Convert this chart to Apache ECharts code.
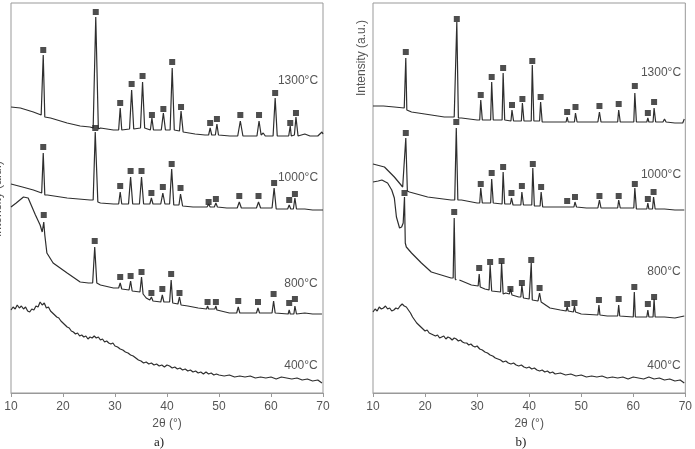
<!DOCTYPE html>
<html>
<head>
<meta charset="utf-8">
<script src="https://cdn.jsdelivr.net/npm/echarts@6/dist/echarts.min.js"></script>
<style>
  html, body { margin: 0; padding: 0; background: #fff; }
  #chart { width: 695px; height: 449px; }
</style>
</head>
<body>
<div id="chart"></div>
<script>
// x axis ticks (2θ, degrees)
var xTicks = [10, 20, 30, 40, 50, 60, 70];
var tempLabels = ['1300°C', '1000°C', '800°C', '400°C'];

// ---- panel a) traces: [2θ, intensity (a.u., offset included)] ----
var a1300 = [[10, 286], [11.8, 285], [14.3, 281], [15.8, 278], [15.95, 277], [16.2, 338], [16.5, 276],
    [17.6, 275], [20.8, 270], [23.3, 267], [25.2, 266], [25.8, 265], [26.3, 376], [26.8, 264],
    [27.2, 265], [29.7, 263], [30.7, 263], [31.0, 285], [31.3, 263], [32.8, 264], [33.2, 303], [33.6, 264],
    [34.9, 265], [35.3, 311], [35.7, 265], [36.8, 263], [37.1, 275], [37.4, 263], [38.9, 263], [39.3, 280],
    [39.7, 263], [40.6, 263], [41.0, 325], [41.4, 263], [42.4, 262], [42.7, 282], [43.1, 261], [45.4, 259],
    [47.3, 258], [48.0, 258], [48.3, 265], [48.6, 258], [49.3, 258], [49.6, 269], [49.9, 258], [52.1, 257],
    [53.6, 257], [54.1, 272], [54.6, 257], [56.0, 257], [57.3, 257], [57.7, 272], [58.1, 258], [58.5, 260],
    [58.9, 257], [60.4, 257], [60.8, 295], [61.2, 257], [63.4, 257], [63.7, 267], [63.9, 257], [64.5, 258],
    [64.8, 276], [65.2, 257], [66.5, 259], [67.5, 257], [69.0, 257], [69.8, 261], [70, 259]];
var a1000 = [[10, 209], [12.2, 206], [14.3, 203], [15.9, 200], [16.2, 240], [16.5, 198], [17.0, 198],
    [20.8, 195], [25.2, 193], [25.8, 193], [26.2, 261], [26.7, 191], [27.2, 190], [29.7, 189],
    [30.7, 189], [31.0, 201], [31.3, 189], [32.6, 189], [33.0, 216], [33.4, 189], [34.7, 189], [35.1, 216],
    [35.5, 189], [36.7, 189], [37.0, 195], [37.3, 189], [38.8, 189], [39.2, 200], [39.6, 189], [40.5, 189],
    [40.9, 224], [41.3, 188], [42.3, 188], [42.6, 199], [43.0, 187], [45.0, 186], [47.7, 186], [48.0, 189],
    [48.3, 186], [49.1, 186], [49.4, 190], [49.7, 186], [51.5, 185], [53.5, 185], [53.9, 191], [54.3, 185],
    [55.7, 185], [57.2, 185], [57.6, 191], [58.0, 185], [60.2, 185], [60.6, 205], [61.0, 184], [63.2, 184],
    [63.5, 188], [63.8, 184], [64.3, 184], [64.6, 195], [64.9, 184], [66.5, 184], [68, 183], [70, 183]];
var a800 = [[10, 186], [11.0, 190], [12.4, 196], [13.3, 195], [14.7, 178], [15.6, 168], [16.0, 161],
    [16.3, 171], [16.5, 158], [16.9, 140], [18.1, 130], [20.8, 120], [23.3, 111], [24.9, 110],
    [25.7, 110], [26.1, 146], [26.5, 110], [27.2, 108], [29.7, 105], [30.7, 105], [31.0, 110], [31.3, 104],
    [32.7, 103], [33.0, 112], [33.3, 102], [34.8, 101], [35.1, 116], [35.4, 99], [36.0, 95], [36.7, 93],
    [37.0, 96], [37.3, 92], [38.8, 91], [39.1, 98], [39.4, 91], [40.5, 91], [40.8, 113], [41.1, 90],
    [42.1, 89], [42.4, 96], [42.7, 88], [44.0, 87], [46.0, 85], [47.6, 84], [47.8, 87], [48.0, 84],
    [49.2, 84], [49.4, 87], [49.6, 83], [52.0, 80], [53.4, 80], [53.7, 86], [54.0, 80], [57.2, 80],
    [57.5, 85], [57.8, 80], [60.2, 80], [60.5, 92], [60.8, 80], [63.3, 79], [63.5, 83], [63.7, 79],
    [64.4, 79], [64.6, 87], [64.9, 79], [66.5, 80], [68.0, 79], [69.8, 79]];
var a400 = [[10.0, 83], [10.4, 86], [10.8, 84], [11.2, 88], [11.6, 85], [12.0, 87], [12.4, 84], [12.8, 86],
    [13.2, 82], [13.6, 81], [14.0, 84], [14.4, 83], [14.8, 87], [15.2, 86], [15.6, 91], [16.0, 88],
    [16.4, 90], [16.8, 85], [17.2, 86], [17.6, 82], [18.0, 80], [18.4, 78], [18.8, 76], [19.2, 75],
    [19.6, 72], [20.0, 70], [20.4, 68], [20.8, 66], [21.2, 65], [21.6, 62], [22.0, 61], [22.4, 59],
    [22.8, 60], [23.2, 57], [23.6, 58], [24.0, 56], [24.4, 57], [24.8, 54], [25.2, 56], [25.6, 55],
    [26.0, 57], [26.4, 55], [26.8, 56], [27.2, 53], [27.6, 54], [28.0, 51], [28.4, 52], [28.8, 50],
    [29.2, 49], [29.6, 50], [30.0, 47], [30.5, 46], [31.0, 44], [31.5, 43], [32.0, 41], [32.5, 40],
    [33.0, 38], [33.5, 37], [34.0, 35], [34.5, 33], [35.0, 32], [35.5, 30], [36.0, 31], [36.5, 29],
    [37.0, 30], [37.5, 28], [38.0, 29], [38.5, 27], [39.0, 28], [39.5, 26], [40.0, 28], [40.5, 27],
    [41.0, 25], [41.5, 26], [42.0, 24], [42.5, 25], [43.0, 23], [43.5, 24], [44.0, 22], [44.5, 23],
    [45.0, 21], [45.5, 22], [46.0, 20], [46.5, 21], [47.0, 19], [47.5, 21], [48.0, 19], [48.5, 20],
    [49.0, 18], [49.5, 19], [50.0, 18], [51, 17], [52, 18], [53, 16], [54, 17], [55, 16], [56, 17],
    [57, 15], [58, 16], [59, 15], [60, 16], [61, 14], [62, 16], [63, 15], [64, 14], [65, 15], [66, 13],
    [67, 14], [68, 12], [69, 13], [69.8, 10]];

// square markers above the reflections, panel a)
var aMarks1300 = [[16.2, 343], [26.3, 381], [31.0, 290], [33.2, 309], [35.3, 317], [37.1, 278], [39.3, 284],
    [41.0, 331], [42.7, 286], [48.3, 270], [49.6, 274], [54.1, 278], [57.7, 278], [60.8, 300], [63.7, 270], [64.8, 280]];
var aMarks1000 = [[16.2, 246], [26.2, 265], [31.0, 207], [33.0, 222], [35.1, 222], [37.0, 200], [39.2, 206],
    [40.9, 229], [42.6, 205], [48.0, 191], [49.4, 194], [53.9, 197], [57.6, 197], [60.6, 210], [63.5, 193], [64.6, 199]];
var aMarks800 = [[16.3, 178], [26.1, 152], [31.0, 116], [33.0, 117], [35.1, 121], [37.0, 100], [39.1, 104],
    [40.8, 119], [42.4, 100], [47.8, 91], [49.4, 91], [53.7, 92], [57.5, 91], [60.5, 99], [63.5, 90], [64.6, 94]];

// ---- panel b) traces ----
var b1300 = [[10, 287], [12.0, 287], [14.1, 286], [16.0, 285], [16.1, 285], [16.3, 335], [16.5, 283],
    [17.4, 281], [21.2, 278], [23.7, 276], [25.6, 276], [25.9, 276], [26.1, 371], [26.4, 275], [27.0, 275],
    [30.0, 273], [30.5, 273], [30.7, 293], [31.0, 273], [32.6, 273], [32.8, 311], [33.1, 273], [34.8, 273],
    [35.0, 320], [35.3, 273], [36.5, 272], [36.7, 283], [37.0, 272], [38.5, 272], [38.7, 290], [39.0, 272],
    [40.4, 272], [40.6, 328], [40.9, 272], [42.0, 272], [42.2, 291], [42.5, 271], [44.0, 271], [46.0, 271],
    [47.1, 271], [47.3, 276], [47.5, 271], [48.7, 271], [48.9, 280], [49.2, 271], [51.0, 271], [53.2, 271],
    [53.5, 281], [53.8, 271], [55.5, 271], [57.0, 271], [57.2, 283], [57.5, 271], [60.1, 271], [60.3, 300],
    [60.6, 271], [62.6, 271], [62.8, 275], [63.0, 271], [63.8, 271], [64.0, 285], [64.3, 271], [65.7, 271],
    [66.0, 274], [66.3, 271], [68.0, 270], [69.5, 270], [69.8, 274]];
var b1000 = [[10, 229], [12.2, 226], [14.1, 216], [15.7, 206], [16.0, 204], [16.3, 255], [16.6, 202],
    [17.0, 201], [20.5, 196], [25.0, 193], [25.7, 193], [26.0, 265], [26.3, 193], [27.0, 193], [30.0, 190],
    [30.5, 190], [30.7, 205], [31.0, 190], [32.6, 190], [32.8, 214], [33.1, 190], [34.8, 189], [35.0, 221],
    [35.3, 189], [36.4, 189], [36.6, 195], [36.9, 188], [38.4, 188], [38.6, 201], [38.9, 188], [40.5, 188],
    [40.7, 225], [41.0, 187], [42.1, 187], [42.3, 201], [42.6, 186], [44.5, 186], [46.0, 186], [47.1, 186],
    [47.3, 188], [47.5, 186], [48.6, 186], [48.8, 191], [49.1, 186], [51.0, 185], [53.2, 185], [53.5, 193],
    [53.8, 185], [55.5, 185], [57.0, 185], [57.2, 193], [57.5, 185], [60.1, 185], [60.3, 205], [60.6, 184],
    [62.6, 184], [62.8, 190], [63.0, 184], [63.7, 184], [63.9, 196], [64.2, 184], [66, 184], [68, 183], [69.8, 183]];
var b800 = [[10, 211], [11.0, 212], [11.7, 213], [12.8, 210], [13.6, 203], [14.1, 195], [14.5, 176],
    [15.1, 165], [15.5, 166], [15.8, 170], [16.05, 196], [16.2, 150], [16.4, 146], [17.4, 140], [19.3, 130],
    [21.2, 121], [23.1, 118], [25.0, 115], [25.4, 115], [25.6, 175], [25.8, 114], [26.0, 113], null,
    [26.6, 113], [28.9, 108], [30.2, 107], [30.4, 119], [30.6, 106], [31.5, 104], [32.3, 103], [32.5, 128],
    [32.8, 102], [34.5, 101], [34.7, 130], [35.0, 99], [35.5, 100], [36.2, 99], [36.4, 104], [36.7, 98],
    [38.0, 96], [38.4, 96], [38.6, 108], [38.9, 95], [40.0, 94], [40.2, 94], [40.4, 130], [40.6, 93],
    [41.7, 92], [42.0, 100], [42.3, 91], [44.0, 85], [46.0, 83], [47.1, 82], [47.3, 86], [47.5, 82],
    [48.5, 81], [48.7, 87], [48.9, 81], [50.0, 79], [53.2, 78], [53.4, 88], [53.6, 78], [55.0, 77],
    [57.0, 77], [57.2, 88], [57.4, 77], [60.0, 76], [60.2, 101], [60.4, 76], [62.6, 76], [62.8, 83],
    [63.0, 76], [63.8, 76], [64.0, 94], [64.2, 76], [66.0, 76], [68.0, 75], [69.8, 77]];
var b400 = [[10.0, 81], [10.4, 84], [10.8, 82], [11.2, 86], [11.6, 84], [12.0, 85], [12.4, 87], [12.8, 84],
    [13.2, 85], [13.6, 82], [14.0, 83], [14.4, 85], [14.8, 84], [15.2, 87], [15.6, 89], [16.0, 87],
    [16.4, 86], [16.8, 83], [17.2, 80], [17.6, 76], [18.0, 73], [18.4, 70], [18.8, 68], [19.2, 66],
    [19.6, 64], [20.0, 62], [20.4, 63], [20.8, 60], [21.2, 59], [21.6, 58], [22.0, 57], [22.4, 58],
    [22.8, 55], [23.2, 56], [23.6, 57], [24.0, 54], [24.4, 56], [24.8, 55], [25.2, 53], [25.6, 55],
    [26.0, 54], [26.4, 52], [26.8, 53], [27.2, 51], [27.6, 50], [28.0, 50], [28.4, 48], [28.8, 49],
    [29.2, 47], [29.6, 46], [30.0, 47], [30.5, 44], [31.0, 43], [31.5, 41], [32.0, 40], [32.5, 38],
    [33.0, 37], [33.5, 35], [34.0, 34], [34.5, 33], [35.0, 31], [35.5, 32], [36.0, 30], [36.5, 29],
    [37.0, 30], [37.5, 28], [38.0, 27], [38.5, 28], [39.0, 26], [39.5, 25], [40.0, 26], [40.5, 24],
    [41.0, 25], [41.5, 23], [42.0, 22], [42.5, 23], [43.0, 21], [43.5, 22], [44.0, 20], [44.5, 21],
    [45.0, 19], [46.0, 20], [47.0, 18], [48.0, 19], [49.0, 17], [50.0, 18], [51, 16], [52, 17], [53, 16],
    [54, 17], [55, 15], [56, 16], [57, 15], [58, 16], [59, 14], [60, 16], [61, 15], [62, 14], [63, 16],
    [64, 14], [65, 15], [66, 13], [67, 14], [68, 12], [69, 13], [69.8, 10]];

var bMarks1300 = [[16.3, 341], [26.1, 374], [30.7, 298], [32.8, 316], [35.0, 325], [36.7, 288], [38.7, 294],
    [40.6, 332], [42.2, 296], [47.3, 281], [48.9, 286], [53.5, 287], [57.2, 289], [60.3, 307], [62.8, 280], [64.0, 291]];
var bMarks1000 = [[16.3, 260], [26.0, 271], [30.7, 209], [32.8, 220], [35.0, 226], [36.6, 200], [38.6, 207],
    [40.7, 229], [42.3, 206], [47.3, 192], [48.8, 196], [53.5, 197], [57.2, 197], [60.3, 209], [62.8, 194], [63.9, 201]];
var bMarks800 = [[16.05, 200], [25.6, 181], [30.4, 125], [32.5, 131], [34.7, 132], [36.4, 104], [38.6, 110],
    [40.4, 133], [42.0, 105], [47.3, 89], [48.7, 90], [53.4, 93], [57.2, 94], [60.2, 106], [62.8, 89], [64.0, 96]];

var chart = echarts.init(document.getElementById('chart'));

var lineColor = '#2e2e2e';
var textColor = '#555';

// 一条衍射曲线
function trace(data, idx) {
    return {
        type: 'line', xAxisIndex: idx, yAxisIndex: idx, data: data,
        showSymbol: false, connectNulls: false, silent: true,
        lineStyle: { color: lineColor, width: 1.2 }
    };
}
// 峰位方块标记
function marks(data, idx) {
    return {
        type: 'scatter', xAxisIndex: idx, yAxisIndex: idx, data: data,
        symbol: 'rect', symbolSize: 6, z: 5, silent: true,
        itemStyle: { color: '#222' }
    };
}

function xAxisFor(idx) {
    return {
        type: 'value', gridIndex: idx, min: xTicks[0], max: xTicks[xTicks.length - 1], interval: 10,
        name: '2θ (°)', nameLocation: 'middle', nameGap: 23,
        nameTextStyle: { color: textColor, fontSize: 12, fontFamily: 'Liberation Sans' },
        axisLine: { lineStyle: { color: '#999' } },
        axisTick: { show: true, length: 4, lineStyle: { color: '#999' } },
        axisLabel: { color: textColor, fontSize: 12, margin: 8, fontFamily: 'Liberation Sans' },
        splitLine: { show: false }
    };
}
function yAxisFor(idx) {
    return {
        type: 'value', gridIndex: idx, min: 0, max: 390,
        axisLine: { show: false }, axisTick: { show: false },
        axisLabel: { show: false }, splitLine: { show: false }
    };
}

// 温度标签
var labelPos = {
    a: [[298, 81], [298, 178], [301, 284], [301, 366]],
    b: [[661, 73], [661, 175], [664, 272], [664, 366]]
};
var graphics = [];
['a', 'b'].forEach(function (p) {
    labelPos[p].forEach(function (pos, i) {
        graphics.push({
            type: 'text', x: pos[0], y: pos[1],
            style: { text: tempLabels[i], fill: textColor, font: '12px "Liberation Sans"',
                align: 'center', verticalAlign: 'middle' }
        });
    });
});
graphics.push({
    type: 'text', x: 362, y: 58, rotation: Math.PI / 2,
    style: { text: 'Intensity (a.u.)', fill: textColor, font: '12px "Liberation Sans"',
        align: 'center', verticalAlign: 'middle' }
});
graphics.push({
    type: 'text', x: -2, y: 199, rotation: Math.PI / 2,
    style: { text: 'Intensity (a.u.)', fill: textColor, font: '12px "Liberation Sans"',
        align: 'center', verticalAlign: 'middle' }
});
graphics.push({
    type: 'text', x: 159, y: 443,
    style: { text: 'a)', fill: '#222', font: '13px "Liberation Serif"', align: 'center', verticalAlign: 'middle' }
});
graphics.push({
    type: 'text', x: 521, y: 443,
    style: { text: 'b)', fill: '#222', font: '13px "Liberation Serif"', align: 'center', verticalAlign: 'middle' }
});

var option = {
    animation: false,
    backgroundColor: '#fff',
    grid: [
        { left: 11, top: 3, width: 312, height: 390, show: true, borderColor: '#999', borderWidth: 1 },
        { left: 373, top: 3, width: 314, height: 390, show: true, borderColor: '#999', borderWidth: 1 }
    ],
    xAxis: [xAxisFor(0), xAxisFor(1)],
    yAxis: [yAxisFor(0), yAxisFor(1)],
    graphic: graphics,
    series: [
        trace(a1300, 0), trace(a1000, 0), trace(a800, 0), trace(a400, 0),
        marks(aMarks1300, 0), marks(aMarks1000, 0), marks(aMarks800, 0),
        trace(b1300, 1), trace(b1000, 1), trace(b800, 1), trace(b400, 1),
        marks(bMarks1300, 1), marks(bMarks1000, 1), marks(bMarks800, 1)
    ]
};

chart.setOption(option);
</script>
</body>
</html>
